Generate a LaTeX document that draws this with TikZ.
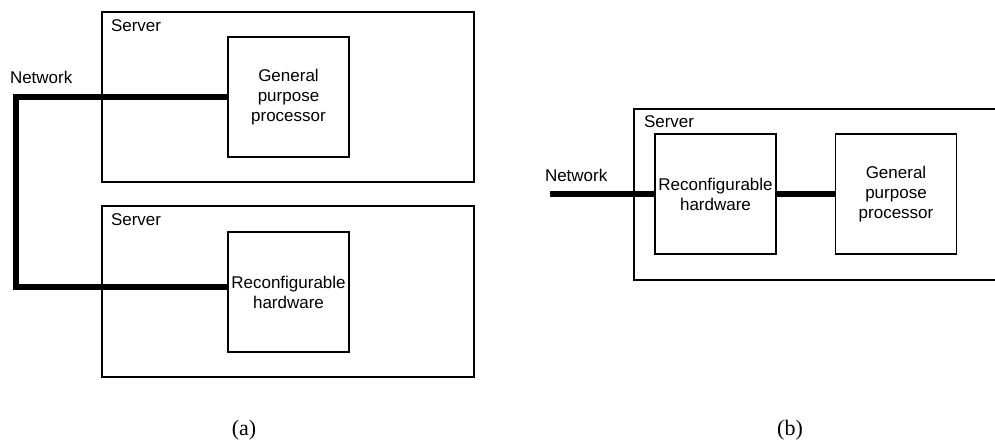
\documentclass[tikz,border=0pt]{standalone}
\usepackage{fontspec}
\setmainfont{Liberation Sans}
\newfontfamily\capfont{Liberation Serif}
\begin{document}
\begin{tikzpicture}[x=1pt,y=1pt,
  every node/.style={inner sep=0pt, outer sep=0pt},
  txt/.style={font=\fontsize{17}{20}\selectfont, text=black},
  serverbox/.style={draw=black, line width=1.8pt, minimum width=372pt, minimum height=170pt},
  unitbox/.style={draw=black, line width=1.8pt, minimum width=121pt, minimum height=120pt,
                  align=center, txt},
  link/.style={line width=6pt, line join=miter, draw=black},
  caption/.style={font=\capfont\fontsize{22}{24}\selectfont}]
\clip (0,0) rectangle (995,442);

% (a) two servers, each with one unit
\node[serverbox] (srvA1) at (288,345) {};
\node[serverbox, minimum height=171pt] (srvA2) at (288,150.5) {};
\node[txt, anchor=base west] (lblA1) at (111,410) {Server};
\node[txt, anchor=base west] (lblA2) at (111,216) {Server};
\node[unitbox] (gppA) at (288.5,345) {General\\purpose\\processor};
\node[unitbox] (rcA) at (288.5,150) {Reconfigurable\\hardware};
\node[txt, anchor=base west] (netA) at (10,358) {Network};
\coordinate (bendA1) at (16,345);
\coordinate (bendA2) at (16,155);
\draw[link] (gppA.west) -- (bendA1) -- (bendA2) -- (bendA2 -| rcA.west);

% (b) one server, reconfigurable hardware in front of the processor
\node[serverbox, minimum height=171pt] (srvB) at (820,247.5) {};
\node[txt, anchor=base west] (lblB) at (644,314) {Server};
\node[unitbox] (rcB) at (715.5,248) {Reconfigurable\\hardware};
\node[unitbox] (gppB) at (896,248) {General\\purpose\\processor};
\node[txt, anchor=base west] (netB) at (545,260) {Network};
\coordinate (netBend) at (550,248);
\draw[link] (netBend) -- (rcB.west);
\draw[link] (rcB.east) -- (gppB.west);

% captions
\node[caption] (capA) at (244,12) {(a)};
\node[caption] (capB) at (790,12) {(b)};
\end{tikzpicture}
\end{document}
